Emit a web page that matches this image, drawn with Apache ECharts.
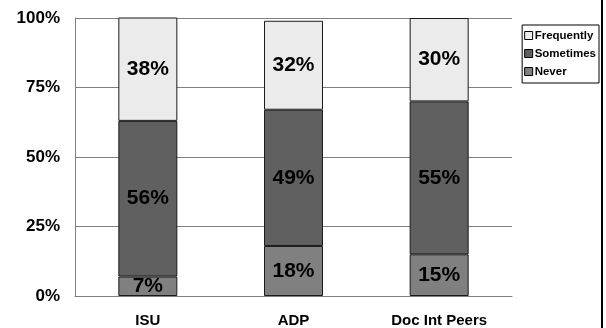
<!DOCTYPE html>
<html>
<head>
<meta charset="utf-8">
<script src="https://cdn.jsdelivr.net/npm/echarts@6/dist/echarts.min.js"></script>
<style>
  html, body { margin: 0; padding: 0; background: #fff; }
  #chart { width: 606px; height: 328px; }
</style>
</head>
<body>
<div id="chart"></div>
<script>
// Response shares per group, in percent
const categories = ['ISU', 'ADP', 'Doc Int Peers'];
const never      = [7, 18, 15];
const sometimes  = [56, 49, 55];
const frequently = [38, 32, 30];
const yTicks = [0, 25, 50, 75, 100];

const FONT = 'Liberation Sans, Arial, sans-serif';

function stackSeries(name, data, color) {
  return {
    name: name,
    type: 'bar',
    stack: 'share',
    data: data,
    barWidth: '40.5%',
    itemStyle: { color: color, borderColor: '#1a1a1a', borderWidth: 1 },
    label: {
      show: true,
      position: 'inside',
      formatter: p => p.value + '%',
      color: '#000',
      fontFamily: FONT,
      fontWeight: 'bold',
      fontSize: 21
    },
    emphasis: { disabled: true }
  };
}

const chart = echarts.init(document.getElementById('chart'), null, { renderer: 'canvas' });
chart.setOption({
  animation: false,
  backgroundColor: '#fff',
  grid: { left: 75, right: 94, top: 18, bottom: 31, containLabel: false },
  legend: {
    data: ['Frequently', 'Sometimes', 'Never'],
    orient: 'vertical',
    right: 7,
    top: 25,
    itemWidth: 8,
    itemHeight: 8,
    itemGap: 5,
    padding: [4, 3, 5, 2],
    borderColor: '#000',
    borderWidth: 1,
    icon: 'rect',
    itemStyle: { borderColor: '#000', borderWidth: 1 },
    textStyle: { fontFamily: FONT, fontWeight: 'bold', fontSize: 11.5, lineHeight: 13, color: '#000', padding: [0, 0, 0, -3] },
    selectedMode: false
  },
  xAxis: {
    type: 'category',
    data: categories,
    axisLine: { lineStyle: { color: '#808080', width: 1 } },
    axisTick: { show: false },
    axisLabel: { fontFamily: FONT, fontWeight: 'bold', fontSize: 15, color: '#000', margin: 17 }
  },
  yAxis: {
    type: 'value',
    min: yTicks[0],
    max: yTicks[yTicks.length - 1],
    interval: 25,
    axisLine: { show: true, lineStyle: { color: '#808080', width: 1 } },
    axisTick: { show: false },
    splitLine: { lineStyle: { color: '#808080', width: 1 } },
    axisLabel: {
      formatter: v => v + '%',
      fontFamily: FONT, fontWeight: 'bold', fontSize: 17, color: '#000', margin: 15
    }
  },
  graphic: [{
    type: 'rect',
    shape: { x: 601, y: 0, width: 2, height: 328 },
    style: { fill: '#000' },
    silent: true
  }],
  series: [
    stackSeries('Never', never, '#808080'),
    stackSeries('Sometimes', sometimes, '#606060'),
    stackSeries('Frequently', frequently, '#ebebeb')
  ]
});
</script>
</body>
</html>
